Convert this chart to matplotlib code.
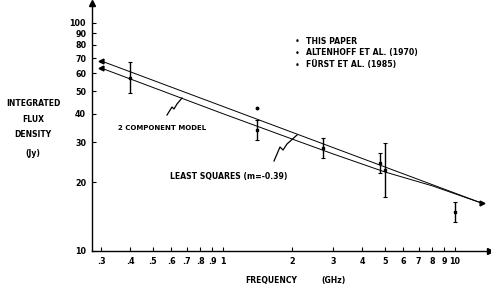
import matplotlib
matplotlib.use("Agg")
import matplotlib.pyplot as plt
import numpy as np

# least squares fit (m = -0.39)
ls_freq = [0.30, 13.1]
ls_flux = [68.0, 16.2]

# 2 component model, sits a bit under the fit and joins it near 8 GHz
model_freq = [0.30, 0.5, 1.0, 2.0, 3.0, 5.0, 8.0, 13.1]
model_flux = [63.3, 52.1, 40.0, 30.9, 26.6, 22.2, 19.3, 16.2]

# measurements with error bars (GHz, Jy)
err_freq = [0.40, 1.41, 2.70, 4.78, 4.99, 10.0]
err_lo = [49.4, 30.7, 25.6, 22.0, 17.3, 13.4]
err_hi = [67.6, 37.6, 31.3, 26.9, 29.8, 16.4]
err_mid = [57.5, 34.0, 28.2, 24.3, 22.7, 14.8]

# the lone point above the 1.4 GHz bar
dot_freq = [1.41]
dot_flux = [42.5]

xtick_vals = [0.3, 0.4, 0.5, 0.6, 0.7, 0.8, 0.9, 1, 2, 3, 4, 5, 6, 7, 8, 9, 10]
xtick_text = [".3", ".4", ".5", ".6", ".7", ".8", ".9", "1", "2", "3", "4", "5", "6", "7", "8", "9", "10"]
ytick_vals = [10, 20, 30, 40, 50, 60, 70, 80, 90, 100]

legend_text = ["THIS PAPER", "ALTENHOFF ET AL. (1970)", "FÜRST ET AL. (1985)"]

W, H = 491, 289
fig = plt.figure(figsize=(W / 100, H / 100), dpi=100)
ax = fig.add_axes([91.7 / W, (H - 251) / H, 398.3 / W, 248 / H])
ax.set_xscale("log")
ax.set_yscale("log")
ax.set_xlim(0.273, 14.2)
ax.set_ylim(10, 122)

fs = 5.8
ax.set_xticks(xtick_vals)
ax.set_xticklabels(xtick_text, fontsize=fs, fontweight="bold")
ax.set_yticks(ytick_vals)
ax.set_yticklabels([str(v) for v in ytick_vals], fontsize=fs, fontweight="bold")
ax.minorticks_off()
ax.tick_params(direction="in", length=3, width=0.8, pad=4)
for s in ["top", "right"]:
    ax.spines[s].set_visible(False)
for s in ["left", "bottom"]:
    ax.spines[s].set_linewidth(1.0)

# arrow heads on the axes
ax.plot(1, 0, ">", color="k", ms=5, transform=ax.transAxes, clip_on=False)
ax.plot(0, 1, "^", color="k", ms=5, transform=ax.transAxes, clip_on=False)

# fit lines
ax.plot(ls_freq, ls_flux, color="k", lw=0.7)
ax.plot(model_freq, model_flux, color="k", lw=0.7)
ax.plot(ls_freq[0], ls_flux[0], "<", color="k", ms=3.5)
ax.plot(model_freq[0], model_flux[0], "<", color="k", ms=3.5)
ax.plot(ls_freq[-1], ls_flux[-1], ">", color="k", ms=3.5)

# error bars
mid = np.array(err_mid)
yerr = [mid - np.array(err_lo), np.array(err_hi) - mid]
ax.errorbar(err_freq, err_mid, yerr=yerr, fmt="s", ms=1.5, color="k",
            elinewidth=1.0, capsize=1.5, capthick=0.8)
ax.plot(dot_freq, dot_flux, "o", color="k", ms=1.8)

# labels
fig.text(33 / W, 1 - 119 / H, "INTEGRATED\nFLUX\nDENSITY", ha="center", va="center",
         fontsize=5.5, fontweight="bold", linespacing=1.9)
fig.text(33 / W, 1 - 153 / H, "(Jy)", ha="center", va="center", fontsize=5.5, fontweight="bold")
fig.text(271 / W, 1 - 280 / H, "FREQUENCY", ha="center", va="center", fontsize=5.5, fontweight="bold")
fig.text(334 / W, 1 - 280 / H, "(GHz)", ha="center", va="center", fontsize=5.5, fontweight="bold")

fig.text(118 / W, 1 - 128 / H, "2 COMPONENT MODEL", ha="left", va="center", fontsize=5.0, fontweight="bold")
fig.text(170 / W, 1 - 177 / H, "LEAST SQUARES (m=-0.39)", ha="left", va="center", fontsize=5.6, fontweight="bold")

# squiggly pointers
for xs, ys in [([167, 172, 174, 177, 182], [115, 107, 109, 104, 98]),
               ([274, 280, 283, 287, 297], [161, 147, 150, 144, 135])]:
    fig.add_artist(plt.Line2D([x / W for x in xs], [1 - y / H for y in ys], color="k", lw=0.9))

for i, t in enumerate(legend_text):
    y = 1 - (41 + 12 * i) / H
    fig.text(297 / W, y, "•", ha="center", va="center", fontsize=fs)
    fig.text(306 / W, y, t, ha="left", va="center", fontsize=5.6, fontweight="bold")

fig.savefig("out.png", dpi=100)
